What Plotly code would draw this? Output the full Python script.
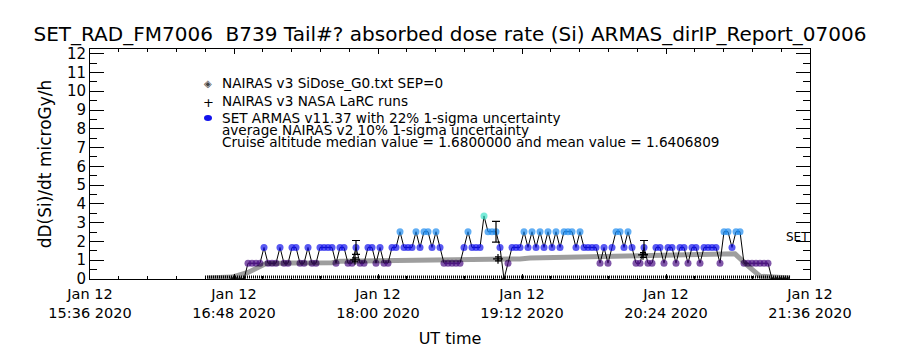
import plotly.graph_objects as go
import pandas as pd

FONT = "DejaVu Sans"

# ---------------- data ----------------
# SET ARMAS dose rate samples (microGy/h), 2-minute cadence starting 16:47 UT
armas_start = "2020-01-12 16:47"
armas_vals = [
    0, 0, 0, 0,
    0.84, 0.84, 0.84, 0.84, 1.68, 0.84, 0.84, 0.84, 1.68, 0.84, 0.84, 1.68,
    1.68, 0.84, 0.84, 1.68, 0.84, 0.84, 1.68, 1.68, 1.68, 1.68, 0.84, 1.68,
    1.68, 0.84, 0.84, 1.68, 0.84, 0.84, 1.68, 1.68, 0.84, 1.68, 0.84, 0.84,
    1.68, 1.68, 2.52, 1.68, 1.68, 1.68, 2.52, 1.68, 2.52, 2.52, 1.68, 2.52,
    1.68, 0.84, 0.84, 0.84, 0.84, 0.84, 1.68, 2.52, 1.68, 1.68, 1.68, 3.36,
    2.52, 2.52, 2.52, 1.68, 0, 0.84, 1.68, 1.68, 1.68, 2.52, 1.68, 2.52,
    1.68, 2.52, 1.68, 2.52, 1.68, 2.52, 1.68, 2.52, 2.52, 2.52, 1.68, 2.52,
    1.68, 1.68, 1.68, 1.68, 0.84, 1.68, 0.84, 1.68, 2.52, 2.52, 1.68, 2.52,
    1.68, 0.84, 0.84, 1.68, 0.84, 0.84, 1.68, 1.68, 0.84, 1.68, 1.68, 0.84,
    1.68, 1.68, 0.84, 1.68, 1.68, 0.84, 1.68, 1.68, 1.68, 1.68, 0.84, 2.52,
    2.52, 1.68, 2.52, 2.52, 0.84, 0.84, 0.84, 0.84, 0.84, 0.84, 0.84, 0,
    0, 0, 0, 0,
]

# ARMAS points shown with their 22% 1-sigma uncertainty bars
armas_err_times = ["2020-01-12 17:49:00", "2020-01-12 18:59:00", "2020-01-12 20:13:00"]
armas_err_vals = [1.68, 2.52, 1.68]

# NAIRAS v3 SiDose_G0 model curve
nairas_times = [
    "2020-01-12 16:34:30", "2020-01-12 16:47:00", "2020-01-12 16:55:00", "2020-01-12 17:00:00",
    "2020-01-12 17:04:00", "2020-01-12 17:16:00", "2020-01-12 17:37:00", "2020-01-12 17:41:00",
    "2020-01-12 18:16:00", "2020-01-12 18:31:00", "2020-01-12 18:44:00", "2020-01-12 18:46:00",
    "2020-01-12 19:11:00", "2020-01-12 19:16:00", "2020-01-12 19:51:00", "2020-01-12 20:06:00",
    "2020-01-12 20:31:00", "2020-01-12 20:58:30", "2020-01-12 21:05:00", "2020-01-12 21:11:00",
    "2020-01-12 21:26:00",
]
nairas_vals = [
    0.05, 0.10, 0.35, 0.65, 0.82, 0.85, 0.87, 0.95, 0.98, 0.99, 1.00, 1.05,
    1.07, 1.12, 1.18, 1.24, 1.30, 1.34, 0.70, 0.15, 0.05,
]

# NAIRAS v3 NASA LaRC runs (10% 1-sigma)
larc_times = ["2020-01-12 17:48:30", "2020-01-12 19:00:00", "2020-01-12 20:12:30"]
larc_vals = [1.02, 1.07, 1.28]

# near-zero trace along the bottom of the flight window
base_times = ["2020-01-12 16:33:30", "2020-01-12 21:26:00"]
base_vals = [0.1, 0.1]

# axis ticks
x_tickvals = ["2020-01-12 15:36:00", "2020-01-12 16:48:00", "2020-01-12 18:00:00",
              "2020-01-12 19:12:00", "2020-01-12 20:24:00", "2020-01-12 21:36:00"]
x_ticktext = ["Jan 12<br>15:36 2020", "Jan 12<br>16:48 2020", "Jan 12<br>18:00 2020",
              "Jan 12<br>19:12 2020", "Jan 12<br>20:24 2020", "Jan 12<br>21:36 2020"]
y_tickvals = list(range(0, 13))

legend_lines = [
    "NAIRAS v3 SiDose_G0.txt SEP=0",
    "NAIRAS v3 NASA LaRC runs",
    "SET ARMAS v11.37 with 22% 1-sigma uncertainty",
    "average NAIRAS v2 10% 1-sigma uncertainty",
    "Cruise altitude median value = 1.6800000 and mean value = 1.6406809",
]


def to_dt(values):
    return pd.to_datetime(values, format="mixed")


# ---------------- styling helpers ----------------
level_colors = {0: "black", 0.84: "#4c0f84", 1.68: "#1212ec", 2.52: "#1e8cf0", 3.36: "#3fe3c9"}
armas_times = pd.date_range(armas_start, periods=len(armas_vals), freq="2min")
m_colors = [level_colors[v] for v in armas_vals]
m_sizes = [4 if v == 0 else 7 for v in armas_vals]

fig = go.Figure()

fig.add_trace(go.Scatter(
    x=to_dt(base_times), y=base_vals, mode="lines",
    line=dict(color="black", width=3, dash="1px,1px"), hoverinfo="skip"))

fig.add_trace(go.Scatter(
    x=armas_times, y=armas_vals, mode="lines+markers",
    line=dict(color="black", width=1),
    marker=dict(color=m_colors, size=m_sizes, line=dict(width=0))))

fig.add_trace(go.Scatter(
    x=to_dt(nairas_times), y=nairas_vals, mode="lines",
    line=dict(color="rgba(0,0,0,0.38)", width=5)))

fig.add_trace(go.Scatter(
    x=to_dt(armas_err_times), y=armas_err_vals, mode="markers",
    marker=dict(size=1, color="rgba(0,0,0,0)"),
    error_y=dict(type="percent", value=22, color="black", thickness=1.2, width=4)))

fig.add_trace(go.Scatter(
    x=to_dt(larc_times), y=larc_vals, mode="markers",
    marker=dict(symbol="cross-thin", size=7, line=dict(color="black", width=1.2)),
    error_y=dict(type="percent", value=10, color="black", thickness=1.2, width=3)))

# ---------------- layout ----------------
L, R, T, B = 90, 90, 49, 71
PW, PH = 900 - L - R, 350 - T - B


def px(xp):
    return (xp - L) / PW


def py(yp):
    return (350 - B - yp) / PH


annotations = []
leg_y = [83, 101, 118, 130, 142]
for txt, yy in zip(legend_lines, leg_y):
    annotations.append(dict(text=txt, x=px(220), y=py(yy), xref="paper", yref="paper",
                            xanchor="left", yanchor="middle", showarrow=False,
                            font=dict(family=FONT, size=13.6, color="black")))
annotations.append(dict(text="◈", x=px(208), y=py(83), xref="paper", yref="paper",
                        xanchor="center", yanchor="middle", showarrow=False,
                        font=dict(family=FONT, size=10, color="#444")))
annotations.append(dict(text="+", x=px(208), y=py(102), xref="paper", yref="paper",
                        xanchor="center", yanchor="middle", showarrow=False,
                        font=dict(family=FONT, size=13, color="black")))
annotations.append(dict(text="SET", x=px(784), y=py(237), xref="paper", yref="paper",
                        xanchor="left", yanchor="middle", showarrow=False,
                        font=dict(family=FONT, size=12, color="black")))

shapes = [dict(type="circle", xref="paper", yref="paper", xsizemode="pixel", ysizemode="pixel",
               xanchor=px(208), yanchor=py(118), x0=-4, x1=4, y0=-3, y1=3,
               fillcolor="#1212ec", line=dict(width=0))]

axis_common = dict(showline=True, linecolor="black", linewidth=1, mirror="ticks",
                   ticks="inside", tickcolor="black", showgrid=False, zeroline=False)

fig.update_layout(
    width=900, height=350, margin=dict(l=L, r=R, t=T, b=B, autoexpand=False),
    paper_bgcolor="white", plot_bgcolor="white", showlegend=False,
    title=dict(text="SET_RAD_FM7006\u00a0\u00a0B739 Tail#? absorbed dose rate (Si) ARMAS_dirIP_Report_07006",
               x=0.5, xref="container", y=1 - 34 / 350, yref="container",
               xanchor="center", yanchor="middle",
               font=dict(family=FONT, size=20, color="black")),
    xaxis=dict(type="date", range=[to_dt(x_tickvals[0]), to_dt(x_tickvals[-1])],
               tickmode="array", tickvals=to_dt(x_tickvals), ticktext=x_ticktext,
               ticklen=5, ticklabelstandoff=2,
               tickfont=dict(family=FONT, size=14.5, color="black"),
               minor=dict(tickmode="linear", tick0=x_tickvals[0], dtick=864000,
                          ticks="inside", ticklen=3, tickcolor="black"),
               title=dict(text="UT time", font=dict(family=FONT, size=16, color="black"), standoff=12),
               **axis_common),
    yaxis=dict(range=[0, 12.25], tickmode="array", tickvals=y_tickvals, ticklen=14,
               tickfont=dict(family=FONT, size=15, color="black"),
               minor=dict(dtick=0.5, ticks="inside", ticklen=7, tickcolor="black"),
               title=dict(text="dD(Si)/dt microGy/h", font=dict(family=FONT, size=17, color="black"), standoff=10),
               **axis_common),
    annotations=annotations, shapes=shapes,
)

fig.write_html("out.html")
